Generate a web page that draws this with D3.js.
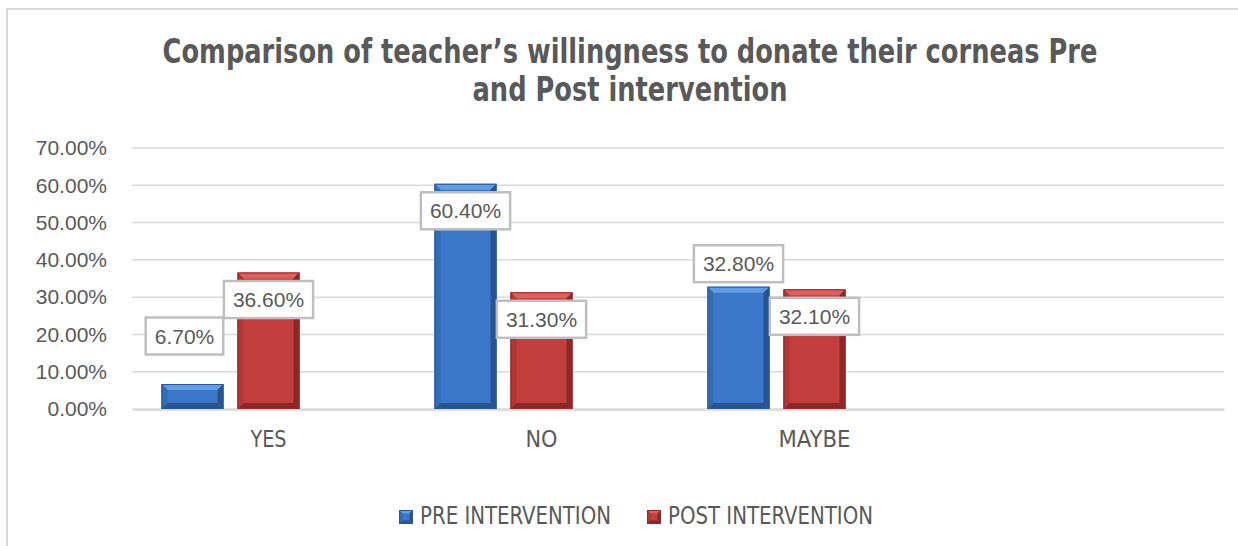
<!DOCTYPE html>
<html>
<head>
  <meta charset="utf-8">
  <title>Cornea donation willingness</title>
  <script src="https://cdn.jsdelivr.net/npm/d3@7.0.0/dist/d3.min.js"></script>
  <style>
    body { margin: 0; background: #fff; }
    svg { display: block; }
    .narrow { font-family: "Liberation Sans Narrow", "Arial Narrow", "DejaVu Sans Condensed", sans-serif; }
    .plain { font-family: "Liberation Sans", Arial, sans-serif; }
  </style>
</head>
<body>
  <div id="chart"></div>

  <script>
    // Chart data
    var categories = ["YES", "NO", "MAYBE", ""];
    var seriesNames = ["PRE INTERVENTION", "POST INTERVENTION"];
    var preValues = [0.067, 0.604, 0.328];
    var postValues = [0.366, 0.313, 0.321];
    var yTicks = [0, 0.1, 0.2, 0.3, 0.4, 0.5, 0.6, 0.7];
    var titleLines = ["Comparison of teacher\u2019s willingness to donate their corneas Pre", "and Post intervention"];

    // label offset from the top-centre of each bar (the labels were hand placed)
    var labelOffsets = [
      [[-8, -48], [0, 27], [0, -23]],
      [[0, 27], [0, 27], [0, 27]]
    ];

    // the source uses a condensed face; these widths keep the fallback font to the same run length
    var titleWidth = 935;
    var categoryWidths = [36, 32, 72, 0];
    var legendWidths = [191, 205];

    var W = 1238, H = 546;
    var margin = { top: 148, right: 14, bottom: 137, left: 132 };
    var width = W - margin.left - margin.right;
    var height = H - margin.top - margin.bottom;

    var palette = [
      { body: "#3b79c8", light: "#5e9ee6", side: "#336cb6", dark: "#285592", edge: "#2a5792" },
      { body: "#c23f3e", light: "#e35d5c", side: "#b03736", dark: "#8c2928", edge: "#8f2b2a" }
    ];

    var svg = d3.select("#chart").append("svg")
      .attr("width", W)
      .attr("height", H);

    // chart frame
    svg.append("rect")
      .attr("x", 7).attr("y", 9)
      .attr("width", W + 20).attr("height", H + 20)
      .attr("fill", "#fff")
      .attr("stroke", "#d9d9d9")
      .attr("stroke-width", 2);

    // title, squeezed horizontally to the condensed width of the source
    var titleG = svg.append("g");
    var title = titleG.append("text")
      .attr("class", "narrow")
      .attr("text-anchor", "middle")
      .attr("font-size", 33)
      .attr("font-weight", "bold")
      .attr("fill", "#595959");
    var tspans = title.selectAll("tspan")
      .data(titleLines)
      .enter().append("tspan")
      .attr("x", 0)
      .attr("y", function(d, i) { return 63 + i * 38; })
      .text(function(d) { return d; });
    var sx = titleWidth / tspans.nodes()[0].getComputedTextLength();
    titleG.attr("transform", "translate(630,0) scale(" + sx + ",1)");

    var g = svg.append("g")
      .attr("transform", "translate(" + margin.left + "," + margin.top + ")");

    var x0 = d3.scaleBand().domain(categories).range([0, width]).paddingInner(0).paddingOuter(0);
    // three slots per category, the third series of the source chart is empty
    var x1 = d3.scaleBand().domain([0, 1, 2]).range([0, x0.bandwidth()])
      .paddingInner(0.184).paddingOuter(0.388);
    var y = d3.scaleLinear().domain([0, 0.7]).range([height, 0]);
    var fmt = d3.format(".2%");

    // gridlines
    g.append("g")
      .selectAll("line")
      .data(yTicks.filter(function(d) { return d > 0; }))
      .enter().append("line")
      .attr("x1", 0).attr("x2", width)
      .attr("y1", function(d) { return y(d); })
      .attr("y2", function(d) { return y(d); })
      .attr("stroke", "#d9d9d9")
      .attr("stroke-width", 1.5);

    // y axis labels
    var yAxis = g.append("g")
      .call(d3.axisLeft(y).tickValues(yTicks).tickFormat(fmt).tickSize(0).tickPadding(25));
    yAxis.select(".domain").remove();
    yAxis.selectAll("text")
      .attr("class", "plain")
      .attr("font-size", 21)
      .attr("fill", "#595959");

    // x axis
    var xAxis = g.append("g")
      .attr("transform", "translate(0," + height + ")")
      .call(d3.axisBottom(x0).tickSize(0).tickPadding(22));
    xAxis.select(".domain")
      .attr("stroke", "#d9d9d9")
      .attr("stroke-width", 2.5);
    xAxis.selectAll("text")
      .attr("class", "narrow")
      .attr("font-size", 23)
      .attr("fill", "#595959")
      .each(function(d, i) {
        if (categoryWidths[i]) {
          d3.select(this).attr("textLength", categoryWidths[i]).attr("lengthAdjust", "spacingAndGlyphs");
        }
      });

    // bevelled bar
    function bevel(sel, x, yTop, w, h, b, c) {
      sel.append("rect").attr("x", x).attr("y", yTop).attr("width", w).attr("height", h)
        .attr("fill", c.body);
      var pts = function(a) { return a.map(function(p) { return p.join(","); }).join(" "); };
      var x2 = x + w, y2 = yTop + h;
      sel.append("polygon").attr("fill", c.light)
        .attr("points", pts([[x, yTop], [x2, yTop], [x2 - b, yTop + b], [x + b, yTop + b]]));
      sel.append("polygon").attr("fill", c.side)
        .attr("points", pts([[x, yTop], [x + b, yTop + b], [x + b, y2 - b], [x, y2]]));
      sel.append("polygon").attr("fill", c.dark)
        .attr("points", pts([[x2, yTop], [x2 - b, yTop + b], [x2 - b, y2 - b], [x2, y2]]));
      sel.append("polygon").attr("fill", c.dark)
        .attr("points", pts([[x, y2], [x + b, y2 - b], [x2 - b, y2 - b], [x2, y2]]));
      sel.append("rect").attr("x", x + 0.5).attr("y", yTop + 0.5).attr("width", w - 1).attr("height", h - 1)
        .attr("fill", "none").attr("stroke", c.edge).attr("stroke-width", 1);
    }

    var seriesValues = [preValues, postValues];
    var bars = g.append("g");
    seriesValues.forEach(function(vals, s) {
      vals.forEach(function(v, i) {
        var bx = x0(categories[i]) + x1(s);
        var bw = x1.bandwidth();
        var bar = bars.append("g").attr("class", "bar");
        bevel(bar, bx, y(v), bw, y(0) - y(v), 6, palette[s]);
      });
    });

    // data labels
    var labels = g.append("g");
    seriesValues.forEach(function(vals, s) {
      vals.forEach(function(v, i) {
        var cx = x0(categories[i]) + x1(s) + x1.bandwidth() / 2 + labelOffsets[s][i][0];
        var cy = y(v) + labelOffsets[s][i][1];
        var lg = labels.append("g");
        var box = lg.append("rect");
        var t = lg.append("text")
          .attr("class", "plain")
          .attr("x", cx).attr("y", cy + 7.5)
          .attr("text-anchor", "middle")
          .attr("font-size", 21)
          .attr("fill", "#595959")
          .text(fmt(v));
        var tw = t.node().getComputedTextLength();
        box.attr("x", cx - tw / 2 - 9).attr("y", cy - 18.5)
          .attr("width", tw + 18).attr("height", 37)
          .attr("fill", "#fff")
          .attr("stroke", "#bfbfbf")
          .attr("stroke-width", 2.5);
      });
    });

    // legend
    var legend = svg.append("g").attr("transform", "translate(399,510)");
    var legendX = [0, 248];
    seriesNames.forEach(function(name, s) {
      var item = legend.append("g").attr("transform", "translate(" + legendX[s] + ",0)");
      bevel(item, 0, 0, 14, 14, 3.5, palette[s]);
      item.append("text")
        .attr("class", "narrow")
        .attr("x", 21).attr("y", 14)
        .attr("font-size", 24)
        .attr("fill", "#595959")
        .attr("textLength", legendWidths[s])
        .attr("lengthAdjust", "spacingAndGlyphs")
        .text(name);
    });
  </script>
</body>
</html>
